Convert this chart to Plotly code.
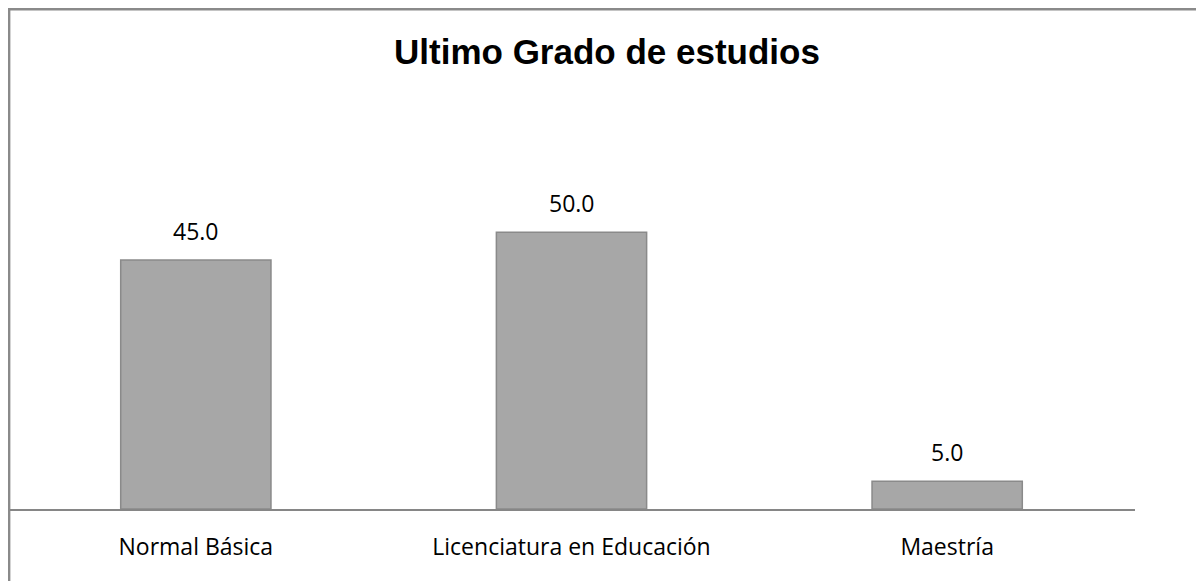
import plotly.graph_objects as go

categories = ["Normal Básica", "Licenciatura en Educación", "Maestría"]
values = [45.0, 50.0, 5.0]
title_text = "Ultimo Grado de estudios"

FONT = "Open Sans, Lato, sans-serif"

fig = go.Figure()
fig.add_trace(go.Bar(
    x=categories, y=values, width=0.4,
    marker=dict(color="#a7a7a7", line=dict(color="#8a8a8a", width=1.5)),
    hoverinfo="skip",
))

for c, v in zip(categories, values):
    fig.add_annotation(x=c, y=v, text=f"{v:.1f}", showarrow=False,
                       yanchor="bottom", yshift=11,
                       font=dict(family=FONT, size=23, color="#000"))

# outer chart border (page has an 8px body margin)
plot_h = 501 - 169
fig.add_shape(type="rect", xref="paper", yref="paper",
              x0=0.001, x1=1.3, y0=-0.6, y1=(501 - 1.3) / plot_h,
              line=dict(color="#8a8a8a", width=2.5), layer="above")

fig.update_layout(
    width=1204, height=581,
    margin=dict(l=0, r=77, t=169, b=80),
    paper_bgcolor="white", plot_bgcolor="white",
    showlegend=False,
    title=dict(text=f"<b>{title_text}</b>", x=599 / 1204, xanchor="center",
               y=1 - 44 / 581, yanchor="middle",
               font=dict(family="Liberation Sans, Arial, sans-serif", size=35, color="#000")),
    xaxis=dict(showline=True, linecolor="#868686", linewidth=2, ticks="",
               showgrid=False, zeroline=False, ticklabelstandoff=16,
               tickfont=dict(family=FONT, size=23, color="#000")),
    yaxis=dict(range=[0, 60], visible=False, showgrid=False, zeroline=False),
)

fig.write_html("out.html")
